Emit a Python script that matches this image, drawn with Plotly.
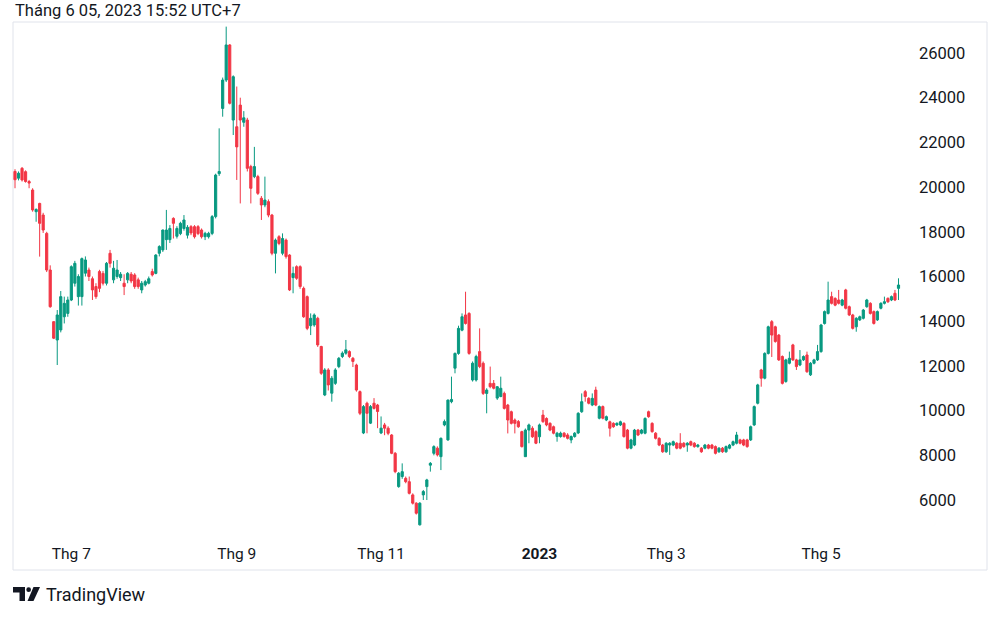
import plotly.graph_objects as go

open_ = [
    20700, 20400, 20840, 20690, 20250, 19870, 18900, 19270, 18750, 17930,
    16290, 13980, 13160, 13610, 14200, 14350, 14950, 15700, 15100, 15100,
    16150, 16290, 15900, 15550, 16220, 16140, 15700, 17040, 15850, 16000,
    15950, 15700, 15850, 16100, 16070, 15850, 15400, 15620, 15700, 16220,
    16140, 17040, 17190, 17650, 17650, 18600, 17800, 17920, 18150, 17850,
    18230, 18230, 18230, 18080, 17780, 17780, 17930, 18680, 20600, 23520,
    24790, 26360, 23000, 22700, 23670, 22900, 23000, 20920, 20470, 20470,
    19500, 19200, 19350, 18750, 17040, 17780, 17040, 17630, 16960, 15950,
    16440, 16440, 15470, 15100, 13800, 13830, 14130, 12870, 10700, 11820,
    10780, 11220, 11970, 12420, 12570, 12640, 12340, 12040, 10850, 9000,
    10330, 9440, 10330, 10250, 9000, 9360, 9215, 8910, 8090, 6600,
    7050, 6970, 6820, 6230, 5860, 4890, 6230, 6600, 7560, 8090,
    8320, 7940,
    9360, 8690, 10400, 11900, 12560, 13600, 14280, 14350, 11370, 11370,
    12640, 12120, 10770, 11220, 11220, 10560, 10630, 10770, 10250, 9950,
    9580, 9510, 9060, 7940, 9130, 9210, 9060, 8830, 9800, 9650,
    9430, 9280, 8840, 8840, 8990, 8910, 8690, 8840, 9000, 9950,
    10850, 10550, 10250, 10920, 9660, 10180, 9580, 9500, 9430, 9360,
    9360, 9430, 9130, 8320, 8460, 9130, 8990, 8990, 9950, 9430,
    8990, 8760, 8460, 8160, 8460, 8460, 8540, 8540, 8540, 8460,
    8610, 8540, 8390, 8320, 8320, 8460, 8460, 8390, 8160, 8320,
    8160, 8320, 8460, 8540, 8690, 8690, 8690, 8690, 9360, 10330,
    11820, 11450, 12560, 13980, 13750, 13380, 12420, 11300, 12120, 12940,
    12270, 12040, 12270, 12490, 11600, 12120, 12270, 12640, 13900, 14350,
    15100, 15020, 14950, 14720, 15400, 14650, 14280, 13750, 14060, 14130,
    14650, 14800, 14430, 14060, 14580, 14800, 15020, 14950, 15250, 15470,
]
high = [
    20800, 20700, 20900, 20750, 20320, 19950, 19050, 19300, 18850, 18000,
    16500, 14000, 14500, 15350, 15100, 15100, 16500, 16700, 16100, 16850,
    16900, 16400, 16000, 15700, 16300, 16250, 16650, 17190, 16700, 16740,
    16200, 16100, 16200, 16200, 16150, 15950, 15800, 15850, 16000, 16350,
    17000, 17400, 18100, 18980, 18300, 18650, 18250, 18450, 18750, 18300,
    18300, 18300, 18300, 18150, 18000, 18000, 18750, 20600, 22630, 24900,
    27180, 26400, 25000, 24500, 24000, 23400, 23100, 21000, 21800, 20550,
    19600, 20470, 19450, 18800, 17700, 17850, 17930, 17700, 17000, 16440,
    16500, 16500, 15550, 15150, 14350, 14350, 14200, 12900, 11900, 11900,
    11550, 11900, 12400, 12650, 13160, 12700, 12400, 12100, 10900, 10250,
    10400, 10250, 10560, 10300, 9740, 9450, 9300, 8950, 8150, 7250,
    7640, 7050, 7050, 6300, 5900, 5900, 6450, 6950, 7700, 8450,
    8400, 8800,
    9600, 10500, 11520, 12600, 13800, 14350, 15320, 14400, 12200, 12500,
    13680, 12200, 11000, 11970, 11370, 11100, 11520, 10850, 10300, 10000,
    9650, 9580, 9100, 9200, 9420, 9300, 9120, 9420, 10030, 9700,
    9480, 9330, 9050, 9060, 9040, 8990, 8890, 9040, 9930, 10770,
    10920, 10600, 10770, 11070, 10230, 10230, 9780, 9550, 9480, 9480,
    9550, 9480, 9180, 8740, 9180, 9180, 9180, 9700, 10000, 9480,
    9040, 8810, 8510, 8590, 8590, 8660, 8590, 8990, 8590, 8590,
    8660, 8590, 8510, 8370, 8510, 8510, 8510, 8440, 8370, 8370,
    8440, 8510, 8660, 9050, 8740, 8740, 8740, 9330, 10230, 11200,
    11870, 12610, 13800, 14050, 13800, 13430, 12470, 12320, 12640, 12990,
    12320, 12710, 12470, 12640, 12170, 12320, 12940, 13880, 14480, 15770,
    15320, 15070, 15400, 15000, 15450, 14700, 14330, 14180, 14250, 14550,
    15000, 14850, 14480, 14480, 14850, 15100, 15070, 15150, 15400, 15920,
]
low = [
    19950, 20300, 20250, 20200, 19950, 18900, 18450, 16890, 17950, 16200,
    14600, 13200, 12040, 13500, 13900, 14200, 14900, 15550, 14700, 14700,
    16000, 15800, 14950, 15000, 15300, 15600, 15600, 16400, 15700, 15900,
    15800, 15170, 15700, 15700, 15450, 15450, 15250, 15550, 15650, 16000,
    16100, 16900, 17100, 17190, 17500, 17700, 17700, 17850, 18050, 17700,
    17850, 17700, 17850, 17700, 17630, 17700, 17850, 18600, 20500, 23150,
    24700, 23700, 22330, 20320, 19270, 22700, 20700, 19270, 20400, 19650,
    18530, 19100, 18650, 16950, 16140, 17400, 16950, 16800, 15350, 15250,
    15850, 15450, 14150, 13600, 13380, 13750, 12850, 11600, 10650, 10900,
    10400, 11150, 11900, 12350, 12500, 12350, 11950, 10850, 9800, 8950,
    8985, 9400, 10050, 9215, 8950, 8900, 8900, 8050, 7200, 6550,
    6950, 6750, 6250, 5800, 5350, 4860, 6000, 6000, 7270, 8000,
    7950, 7340,
    9300, 8650, 10330, 11670, 12500, 13550, 13850, 12500, 11300, 11300,
    11900, 10700, 9880, 11000, 10950, 10480, 10600, 10050, 8980, 9380,
    8980, 9230, 8350, 7940, 8540, 8780, 8500, 8540, 9450, 9300,
    9080, 8940, 8610, 8790, 8790, 8710, 8540, 8790, 8950, 9900,
    10400, 10280, 10200, 10200, 9610, 9610, 9530, 8840, 9230, 9310,
    9310, 8790, 8270, 8270, 8410, 8860, 8940, 8940, 9680, 9010,
    8710, 8410, 8110, 8110, 8020, 8410, 8270, 8270, 8340, 8160,
    8410, 8340, 8340, 8110, 8270, 8270, 8270, 8040, 8110, 8110,
    8110, 8270, 8410, 8490, 8490, 8410, 8340, 8640, 9310, 10280,
    11070, 11400, 12510, 12400, 13040, 12220, 11170, 11250, 12070, 12220,
    11820, 11990, 12220, 11690, 11550, 12070, 12220, 12590, 13850, 14300,
    14750, 14670, 14750, 14670, 14530, 14230, 13630, 13530, 14010, 14080,
    14600, 14300, 13850, 14010, 14530, 14750, 14820, 14900, 14900, 14950,
]
close = [
    20330, 20620, 20320, 20250, 20180, 18980, 19000, 18380, 18080, 16290,
    14650, 13240, 14280, 15100, 14800, 14950, 16440, 16590, 16000, 16800,
    16740, 16000, 15400, 15100, 15470, 15700, 16590, 16590, 16370, 16290,
    16100, 15550, 16140, 15800, 15550, 15550, 15700, 15770, 15900, 16070,
    16960, 17340, 18080, 18080, 18150, 18380, 18150, 18380, 18530, 18200,
    17950, 17780, 17920, 17780, 17930, 17930, 18680, 20540, 20700, 24790,
    26360, 23750, 24940, 21800, 23000, 23100, 20840, 19946, 20920, 19720,
    19200, 19420, 18750, 17040, 17630, 17480, 17700, 16890, 15400, 16140,
    15920, 15550, 14200, 13680, 14130, 14280, 12940, 11670, 11820, 11150,
    11450, 11820, 12340, 12570, 12720, 12420, 12200, 10920, 9880, 10180,
    9880, 10180, 10100, 9960, 9215, 9215, 8985, 8090, 7270, 7200,
    7270, 6820, 6300, 5860, 5410, 5860, 6380, 6900, 7640, 8390,
    8020, 8760,
    9510, 10470, 10500, 12560, 13680, 14200, 13900, 12560, 12120, 12420,
    11970, 10770, 10920, 11070, 11000, 11070, 11000, 10100, 9580, 9430,
    9430, 9280, 8390, 9130, 9360, 8830, 8540, 9360, 9510, 9360,
    9130, 8990, 8990, 8990, 8840, 8760, 8840, 8990, 9880, 10400,
    10630, 10330, 10550, 10250, 10180, 9660, 9730, 9210, 9280, 9430,
    9500, 8840, 8320, 8690, 9130, 8910, 9130, 9650, 9730, 9060,
    8760, 8460, 8160, 8540, 8540, 8610, 8320, 8320, 8390, 8540,
    8460, 8390, 8460, 8160, 8460, 8320, 8320, 8090, 8320, 8160,
    8390, 8460, 8610, 8910, 8540, 8460, 8390, 9280, 10180, 11150,
    11450, 12560, 13750, 13380, 13090, 12270, 11220, 12270, 12340, 12270,
    11970, 12270, 12420, 11740, 12120, 12270, 12640, 13830, 14430, 14950,
    14800, 14720, 14800, 14950, 14580, 14280, 13680, 14130, 14200, 14500,
    14950, 14350, 13900, 14430, 14800, 14870, 14870, 15100, 14950, 15620,
]

month_ticks = [16, 63, 104, 149, 185, 229]
month_labels = ["Thg 7", "Thg 9", "Thg 11", "<b>2023</b>", "Thg 3", "Thg 5"]
price_ticks = [6000, 8000, 10000, 12000, 14000, 16000, 18000, 20000, 22000, 24000, 26000]

GREEN = "#089981"
RED = "#F23645"
TEXT = "#131722"
FONT = "Roboto"

x_idx = list(range(len(close)))

fig = go.Figure(go.Candlestick(
    x=x_idx, open=open_, high=high, low=low, close=close,
    increasing=dict(line=dict(color=GREEN, width=1), fillcolor=GREEN),
    decreasing=dict(line=dict(color=RED, width=1), fillcolor=RED),
    whiskerwidth=0, showlegend=False,
))

# pixel -> paper helpers (plot area: x 13..908, y 22..537)
L, R, T, B = 13, 908, 22, 537
def px(x):
    return (x - L) / (R - L)
def py(y):
    return (B - y) / (B - T)

shapes = [
    dict(type="rect", xref="paper", yref="paper",
         x0=px(13), x1=px(987), y0=py(570), y1=py(22),
         line=dict(color="#e0e3eb", width=1), fillcolor="rgba(0,0,0,0)", layer="below"),
]
# TradingView logo
logo_T = f"M {px(13)},{py(587)} L {px(25)},{py(587)} L {px(25)},{py(601)} L {px(19.5)},{py(601)} L {px(19.5)},{py(592.5)} L {px(13)},{py(592.5)} Z"
logo_V = f"M {px(33.5)},{py(587)} L {px(40)},{py(587)} L {px(33.5)},{py(601)} L {px(27.5)},{py(601)} Z"
shapes.append(dict(type="path", xref="paper", yref="paper", path=logo_T,
                   fillcolor=TEXT, line=dict(width=0)))
shapes.append(dict(type="path", xref="paper", yref="paper", path=logo_V,
                   fillcolor=TEXT, line=dict(width=0)))
shapes.append(dict(type="circle", xref="paper", yref="paper",
                   x0=px(26.3), x1=px(31), y0=py(592), y1=py(587.3),
                   fillcolor=TEXT, line=dict(width=0)))

annotations = [
    dict(text="Tháng 6 05, 2023 15:52 UTC+7", xref="paper", yref="paper",
         x=px(13), y=py(10), xanchor="left", yanchor="middle", showarrow=False,
         font=dict(family=FONT, size=16.5, color=TEXT)),
    dict(text="TradingView", xref="paper", yref="paper",
         x=px(44), y=py(594), xanchor="left", yanchor="middle", showarrow=False,
         font=dict(family=FONT, size=18, color=TEXT)),
]

fig.update_layout(
    width=1000, height=617,
    margin=dict(l=L, r=1000 - R, t=T, b=617 - B),
    paper_bgcolor="white", plot_bgcolor="white",
    boxgap=0.12,
    shapes=shapes, annotations=annotations,
    xaxis=dict(range=[-0.57, 253.7], tickmode="array", tickvals=month_ticks,
               ticktext=month_labels, showgrid=False, zeroline=False,
               showline=False, ticks="", rangeslider=dict(visible=False),
               tickfont=dict(family=FONT, size=15.5, color=TEXT),
               ticklabelstandoff=5),
    yaxis=dict(range=[4346, 27387], side="right", tickmode="array",
               tickvals=price_ticks, ticktext=[str(v) for v in price_ticks],
               showgrid=False, zeroline=False, showline=False, ticks="",
               tickfont=dict(family=FONT, size=16.5, color=TEXT),
               ticklabelstandoff=10),
)

fig.write_html("out.html")
